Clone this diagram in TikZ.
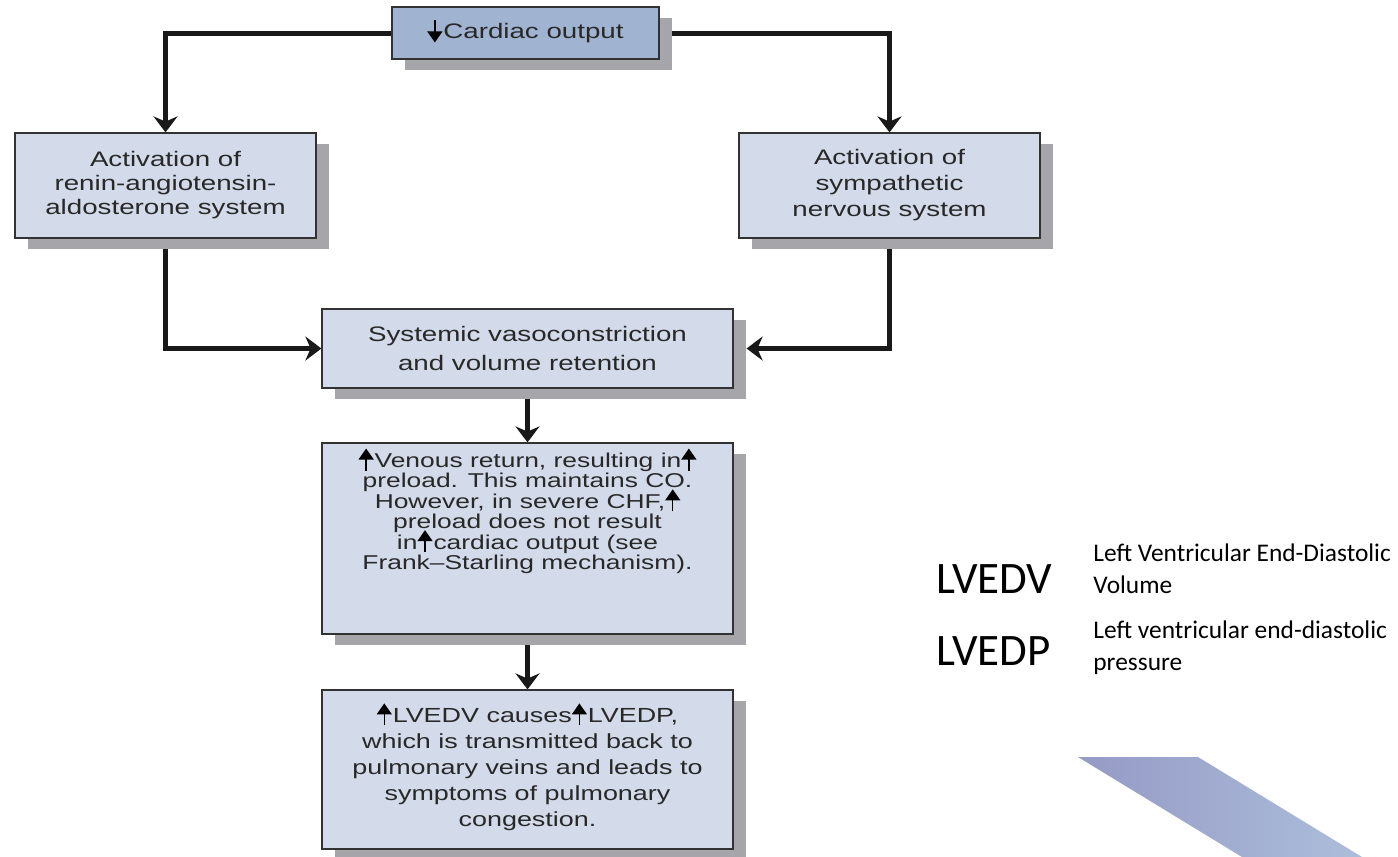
\documentclass[tikz,border=0pt]{standalone}
\usepackage{fontspec}
\newfontfamily\boxfont[FakeStretch=1.32]{Liberation Sans}
\newfontfamily\legfont{Carlito}
\usetikzlibrary{arrows.meta,shadows,backgrounds}
\definecolor{boxblue}{RGB}{160,180,210}
\definecolor{boxlight}{RGB}{211,218,233}
\definecolor{boxshade}{RGB}{166,166,170}
\definecolor{boxline}{RGB}{50,50,50}
\definecolor{boxtext}{RGB}{40,40,40}
\definecolor{wedgeA}{RGB}{150,154,198}
\definecolor{wedgeB}{RGB}{172,190,218}
\newcommand{\arrUp}{\smash{\tikz[baseline=0pt]\draw[black,line width=0.7pt,-{Triangle[width=7.5pt,length=5.5pt]}](0,-1.5pt)--(0,9.5pt);}\hspace{0.5pt}}
\newcommand{\arrDown}{\smash{\tikz[baseline=0pt]\draw[black,line width=0.7pt,-{Triangle[width=7.5pt,length=5.5pt]}](0,9pt)--(0,-2pt);}\hspace{0.5pt}}
\tikzset{
  flowbox/.style={draw=boxline,line width=0.6pt,fill=boxlight,align=center,text=boxtext,inner sep=0pt,
    font=\boxfont\fontsize{10.5}{12}\selectfont,
    general shadow={fill=boxshade,shadow xshift=6.5pt,shadow yshift=-5.5pt}},
  flow/.style={line width=2.5pt,draw=black!90,-{Stealth[width=12pt,length=8pt]}},
  legbig/.style={font=\legfont\fontsize{22.5}{27}\selectfont,inner sep=0pt},
  legsmall/.style={font=\legfont\fontsize{12.7}{16}\selectfont,align=left,inner sep=0pt}
}
\begin{document}
\begin{tikzpicture}[x=0.5pt,y=-0.5pt]
\useasboundingbox (0,0) rectangle (1398,857);
\node[flowbox,fill=boxblue,minimum width=133.5pt,minimum height=26pt] (co) at (525.5,33) {\arrDown Cardiac output};
\node[flowbox,minimum width=150.5pt,minimum height=52.5pt] (raas) at (165.5,185.5) {Activation of\\renin-angiotensin-\\aldosterone system};
\node[flowbox,minimum width=150.5pt,minimum height=52.5pt,font=\boxfont\fontsize{10.5}{13}\selectfont] (sns) at (889.5,185.5) {Activation of\\sympathetic\\nervous system};
\node[flowbox,minimum width=205.5pt,minimum height=39.5pt,font=\boxfont\fontsize{10.5}{14.5}\selectfont] (vaso) at (527.5,348.5) {Systemic vasoconstriction\\and volume retention};
\node[flowbox,minimum width=205.5pt,minimum height=95.5pt,font=\boxfont\fontsize{10}{10.2}\selectfont] (venous) at (527.5,538.5) {\arrUp Venous return, resulting in\arrUp\\preload. This maintains CO.\\However, in severe CHF,\arrUp\\preload does not result\\in\arrUp cardiac output (see\\Frank–Starling mechanism).\\[17pt]\mbox{}};
\node[flowbox,minimum width=205.5pt,minimum height=79.5pt,font=\boxfont\fontsize{10.2}{13}\selectfont] (congest) at (527.5,769.5) {\arrUp LVEDV causes\arrUp LVEDP,\\which is transmitted back to\\pulmonary veins and leads to\\symptoms of pulmonary\\congestion.};
\begin{scope}[on background layer]
\draw[flow] (co.west) -| (raas.north);
\draw[flow] (co.east) -| (sns.north);
\draw[flow] (raas.south) |- (vaso.west);
\draw[flow] (sns.south) |- ([xshift=6.5pt]vaso.east);
\draw[flow] (vaso.south) -- (venous.north);
\draw[flow] (venous.south) -- (congest.north);
\end{scope}
\node[legbig,anchor=base west] (lvedv) at (936,593) {LVEDV};
\node[legsmall,anchor=north west] (lvedvtxt) at (1093,543) {Left Ventricular End-Diastolic\\Volume};
\node[legbig,anchor=base west] (lvedp) at (936,665) {LVEDP};
\node[legsmall,anchor=north west] (lvedptxt) at (1093,620) {Left ventricular end-diastolic\\pressure};
\shade[left color=wedgeA,right color=wedgeB] (1078,757) -- (1198,757) -- (1362,857) -- (1242,857) -- cycle;
\end{tikzpicture}
\end{document}
